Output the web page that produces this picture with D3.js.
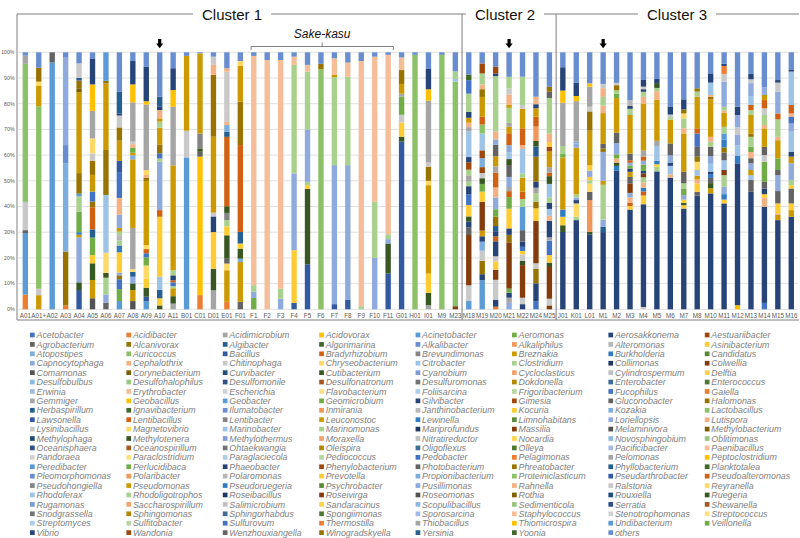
<!DOCTYPE html>
<html>
<head>
<meta charset="utf-8">
<script src="https://cdn.jsdelivr.net/npm/d3@7"></script>
<style>
  body { margin: 0; background: #fff; }
  svg { font-family: "Liberation Sans", Arial, sans-serif; }
</style>
</head>
<body>
<svg id="chart" width="800" height="538"></svg>
<script>
'use strict';

/* Data */

var genera = ["Acetobacter","Acidibacter","Acidimicrobium","Acidovorax","Acinetobacter","Aeromonas","Aerosakkonema","Aestuariibacter",
  "Agrobacterium","Alcanivorax","Algibacter","Algorimarina","Alkalibacter","Alkaliphilus","Alteromonas","Asinibacterium",
  "Atopostipes","Auricoccus","Bacillus","Bradyrhizobium","Brevundimonas","Breznakia","Burkholderia","Candidatus",
  "Capnocytophaga","Cephalothrix","Chitinophaga","Chryseobacterium","Citrobacter","Clostridium","Collimonas","Colwellia",
  "Comamonas","Corynebacterium","Curvibacter","Cutibacterium","Cyanobium","Cycloclasticus","Cylindrospermum","Delftia",
  "Desulfobulbus","Desulfohalophilus","Desulfomonile","Desulfonatronum","Desulfuromonas","Dokdonella","Enterobacter","Enterococcus",
  "Erwinia","Erythrobacter","Escherichia","Flavobacterium","Foliisarcina","Frigoribacterium","Fucophilus","Gaiella",
  "Gemmiger","Geobacillus","Geobacter","Geomicrobium","Gilvibacter","Gimesia","Gluconobacter","Halomonas",
  "Herbaspirillum","Ignavibacterium","Ilumatobacter","Inmirania","Janthinobacterium","Kocuria","Kozakia","Lactobacillus",
  "Lawsonella","Lentibacillus","Lentibacter","Leuconostoc","Lewinella","Limnohabitans","Loriellopsis","Lutispora",
  "Lysinibacillus","Magnetovibrio","Marinobacter","Marinomonas","Mariprofundus","Massilia","Melaminivora","Methylobacterium",
  "Methylophaga","Methylotenera","Methylothermus","Moraxella","Nitratireductor","Nocardia","Novosphingobium","Oblitimonas",
  "Oceanisphaera","Oceanospirillum","Ohtaekwangia","Oleispira","Oligoflexus","Olleya","Pacificibacter","Paenibacillus",
  "Pandoraea","Paraclostridium","Paraglaciecola","Pediococcus","Pedobacter","Pelagimonas","Pelomonas","Peptoclostridium",
  "Peredibacter","Perlucidibaca","Phaeobacter","Phenylobacterium","Photobacterium","Phreatobacter","Phyllobacterium","Planktotalea",
  "Pleomorphomonas","Polaribacter","Polaromonas","Prevotella","Propionibacterium","Proteiniclasticum","Pseudarthrobacter","Pseudoalteromonas",
  "Pseudohongiella","Pseudomonas","Pseudoruegeria","Psychrobacter","Pusillimonas","Rahnella","Ralstonia","Reyranella",
  "Rhodoferax","Rhodoligotrophos","Roseibacillus","Roseivirga","Roseomonas","Rothia","Rouxiella","Ruegeria",
  "Rugamonas","Saccharospirillum","Salimicrobium","Sandaracinus","Scopulibacillus","Sedimenticola","Serratia","Shewanella",
  "Snodgrassella","Sphingomonas","Sphingorhabdus","Spongiimonas","Sporosarcina","Staphylococcus","Stenotrophomonas","Streptococcus",
  "Streptomyces","Sulfitobacter","Sulfurovum","Thermostilla","Thiobacillus","Thiomicrospira","Undibacterium","Veillonella",
  "Vibrio","Wandonia","Wenzhouxiangella","Winogradskyella","Yersinia","Yoonia","others"];

var cluster1 = ["A01","A01+","A02","A03","A04","A05","A06","A07","A08","A09","A10","A11","B01","C01","D01","E01","F01",
  "F1","F2","F3","F4","F5","F6","F7","F8","F9","F10","F11","G01","H01","I01","M9","M23"];
var cluster2 = ["M18","M19","M20","M21","M22","M24","M25"];
var cluster3 = ["J01","K01","L01","M1","M2","M3","M4","M5","M6","M7","M8","M10","M11","M12","M13","M14","M15","M16"];

var yTicks = [0,10,20,30,40,50,60,70,80,90,100];
var arrowSamples = ["A10","M21","M1"];
var sakeKasu = ["F1","F11"];

// per sample: [genus, % of reads], bottom to top
var cluster1Abund = [
  [["Acidibacter",5.7],["Acinetobacter",24],["Agrobacterium",1.1],["Chitinophaga",11],["Lactobacillus",53.7],["Acidimicrobium",3.2],["others",1.3]],
  [["Leuconostoc",5.5],["Chitinophaga",2.5],["Lactobacillus",71],["Leuconostoc",7.9],["Chryseobacterium",1.7],["Halomonas",5.4],["others",6]],
  [["Acinetobacter",96],["Agrobacterium",4]],
  [["Acidibacter",1.5],["Alcanivorax",21],["Atopostipes",34.3],["Alkalibacter",7.1],["Capnocytophaga",34],["others",2.1]],
  [["Bacillus",7.5],["Cutibacterium",3],["Capnocytophaga",17.5],["Leuconostoc",1],["Burkholderia",1],["Aeromonas",8],["Clostridium",6],["Acinetobacter",1],["Alcanivorax",8],["Leuconostoc",31.5],["Corynebacterium",1.5],["Alcanivorax",3],["Algibacter",1],["Chitinophaga",5.7],["others",4.3]],
  [["Comamonas",4.3],["Leuconostoc",7.1],["Cutibacterium",6.5],["Kocuria",3.2],["Aeromonas",6.8],["Algibacter",3.2],["Lentibacillus",8.6],["Alcanivorax",2.2],["Acetobacter",3.9],["Leuconostoc",6.5],["Alcanivorax",5.4],["Chitinophaga",3],["Chryseobacterium",5.8],["Acidimicrobium",10.7],["Acidovorax",10.3],["Aerosakkonema",9.9],["others",2.6]],
  [["Agrobacterium",2.6],["Capnocytophaga",3.2],["Clostridium",6.5],["Cutibacterium",1.9],["Chryseobacterium",7.8],["Citrobacter",22.5],["Alcanivorax",17.5],["Leuconostoc",25.9],["Alcanivorax",1],["Acinetobacter",11.1]],
  [["Acinetobacter",3.2],["Aeromonas",4.6],["Acetobacter",3.8],["Alcanivorax",1.5],["Capnocytophaga",1.1],["Kocuria",7.8],["Burkholderia",2.6],["Clostridium",2],["Alteromonas",2],["Clostridium",1.4],["Leuconostoc",1.4],["Capnocytophaga",5.1],["Rahnella",6.5],["Acetobacter",9.7],["Bacillus",4.6],["Leuconostoc",7.8],["Alcanivorax",5.1],["Chitinophaga",4.6],["Aerosakkonema",0.7],["Algibacter",8.6],["others",15.1]],
  [["Comamonas",3.2],["Leuconostoc",4.3],["Cutibacterium",2.6],["Capnocytophaga",2.6],["Algibacter",1.9],["Chryseobacterium",1],["Acidimicrobium",16.1],["Leuconostoc",26.7],["Atopostipes",1.6],["Leuconostoc",1],["Aeromonas",2],["Rahnella",1.3],["Chitinophaga",1],["Acidimicrobium",15.3],["Acidovorax",7],["Aerosakkonema",9.1],["others",3.4]],
  [["Acinetobacter",3.2],["Bacillus",1.7],["Cutibacterium",3.5],["Kocuria",3.6],["Chryseobacterium",5],["Aeromonas",3.2],["Acetobacter",1.6],["Lentibacillus",1.6],["Chryseobacterium",1.6],["Leuconostoc",24.9],["Alcanivorax",1.3],["Rahnella",1],["Chryseobacterium",1.9],["Acidimicrobium",25.5],["Acidovorax",1.3],["Aerosakkonema",13.4],["others",5.6]],
  [["Cutibacterium",1.5],["Kocuria",2.8],["Algibacter",3.2],["Citrobacter",5.2],["Kocuria",23.3],["Lentibacillus",2.6],["Capnocytophaga",18.8],["Clostridium",1.3],["Acetobacter",2],["Alcanivorax",3.3],["Leuconostoc",6.7],["Clostridium",2.3],["Leuconostoc",1.3],["Rahnella",3.2],["Aerosakkonema",1.3],["Algibacter",3.9],["others",17.3]],
  [["Acidimicrobium",2.2],["Cutibacterium",2.9],["Leuconostoc",3.1],["Clostridium",0.8],["Acetobacter",1.5],["Lentibacillus",0.8],["Aerosakkonema",1.9],["Clostridium",2],["Leuconostoc",40.8],["Acidimicrobium",22.8],["Acidovorax",6.5],["Aerosakkonema",8.5],["others",6.2]],
  [["Acinetobacter",59.1],["Chitinophaga",10.4],["Leuconostoc",29.1],["others",1.4]],
  [["Acidibacter",5.5],["Acidovorax",53.9],["Agrobacterium",1.9],["Cutibacterium",1.3],["Brevundimonas",5.8],["Leuconostoc",31.2],["others",0.4]],
  [["Acidimicrobium",7.4],["Cutibacterium",8.4],["Kocuria",14.3],["Aerosakkonema",6.1],["Chitinophaga",1.5],["Leuconostoc",29.6],["Alcanivorax",24.1],["Rahnella",3.9],["Chitinophaga",3.2],["others",1.7]],
  [["Acidibacter",2.9],["Leuconostoc",12.3],["Chryseobacterium",2.6],["Agrobacterium",1.9],["Cutibacterium",9.1],["Kocuria",3.5],["Clostridium",2.4],["Brevundimonas",2.8],["Cutibacterium",2.6],["Lentibacillus",27],["Algibacter",2],["Atopostipes",2.6],["Rahnella",1.3],["Chitinophaga",19.5],["Rahnella",1.3],["others",6.2]],
  [["Agrobacterium",2.9],["Leuconostoc",15.5],["Atopostipes",1.3],["Cutibacterium",3.9],["Kocuria",2],["Algibacter",4.5],["Lentibacillus",33.8],["Alcanivorax",16.9],["Leuconostoc",14],["Chryseobacterium",1.8],["others",3.4]],
  [["Aeromonas",4.4],["Capnocytophaga",2.4],["Clostridium",2.6],["Staphylococcus",89.2],["others",1.4]],
  [["Staphylococcus",97],["others",3]],
  [["Capnocytophaga",4.1],["Clostridium",3.9],["Staphylococcus",89],["others",3]],
  [["Bacillus",2.5],["Kocuria",20.5],["Capnocytophaga",29.9],["Clostridium",42.2],["Staphylococcus",3.2],["others",1.7]],
  [["Bacillus",17.5],["Cutibacterium",29.3],["Kocuria",1.5],["Clostridium",1.3],["Capnocytophaga",20.4],["Clostridium",22.5],["Staphylococcus",2.6],["others",4.9]],
  [["Lactobacillus",93.4],["Alcanivorax",2.1],["others",4.5]],
  [["Bacillus",2],["Capnocytophaga",54.1],["Clostridium",34.2],["Leuconostoc",0.9],["Staphylococcus",6.5],["others",2.3]],
  [["Bacillus",3.8],["Capnocytophaga",52.3],["Clostridium",34.4],["Staphylococcus",5.5],["others",4]],
  [["Clostridium",1.2],["Staphylococcus",95.4],["others",3.4]],
  [["Capnocytophaga",20],["Clostridium",21.8],["Staphylococcus",56.5],["others",1.7]],
  [["Bacillus",13.9],["Cutibacterium",11.7],["Capnocytophaga",1.7],["Clostridium",1.9],["Staphylococcus",69.8],["others",1]],
  [["Bacillus",65.2],["Cutibacterium",1.9],["Kocuria",5.5],["Chitinophaga",3],["Aeromonas",7.1],["Acidimicrobium",1.1],["Leuconostoc",3.8],["Alcanivorax",5.4],["Staphylococcus",4.9],["others",2]],
  [["Lactobacillus",99],["others",1]],
  [["Acidimicrobium",1.6],["Cutibacterium",4.8],["Kocuria",7.5],["Leuconostoc",34.4],["Chryseobacterium",1.7],["Alcanivorax",5.5],["Chitinophaga",1.6],["Acidimicrobium",24.1],["Acidovorax",4.4],["Aerosakkonema",7.9],["others",6.5]],
  [["Lactobacillus",99],["others",1]],
  [["Colwellia",1.2],["Lactobacillus",87.4],["Citrobacter",1],["Clostridium",3],["others",7.4]]
];

var cluster2Abund = [
  [["Acinetobacter",3.2],["Chitinophaga",6.1],["Colwellia",19.5],["Agrobacterium",3],["Aerosakkonema",2.2],["Cutibacterium",2],["Kocuria",4.4],["Acetobacter",4.1],["Aerosakkonema",3.2],["Clostridium",1.8],["Acidimicrobium",2.4],["Clostridium",2.2],["Aestuariibacter",2.9],["Aerosakkonema",2],["Citrobacter",10],["Acidimicrobium",1.6],["Rahnella",1.7],["Leuconostoc",1.9],["Aerosakkonema",2.3],["Clostridium",7.1],["Acetobacter",5.2],["Algorimarina",2.2],["others",8.6]],
  [["Acinetobacter",11.3],["Aerosakkonema",2.3],["Alcanivorax",5.2],["Chitinophaga",3.9],["Atopostipes",3.5],["Aerosakkonema",2.1],["Leuconostoc",2.2],["Colwellia",11.2],["Kocuria",3.9],["Aeromonas",3],["Cutibacterium",2.2],["Chitinophaga",2],["Aestuariibacter",2.3],["Atopostipes",3.5],["Aestuariibacter",3],["Citrobacter",6.5],["Lactobacillus",3.5],["Lentibacillus",3],["Leuconostoc",7.7],["Alcanivorax",3],["Rahnella",1.8],["Clostridium",4.3],["Aestuariibacter",3.9],["others",4.3]],
  [["Acidibacter",1],["Aerosakkonema",2.6],["Chitinophaga",7.8],["Colwellia",3.9],["Kocuria",3.2],["Chitinophaga",2],["Aerosakkonema",5.8],["Lentibacillus",1.9],["Aerosakkonema",2],["Algibacter",2],["Alcanivorax",3.6],["Aeromonas",2.9],["Capnocytophaga",4.5],["Rahnella",3.9],["Lentibacillus",5.8],["Acidimicrobium",2.4],["Leuconostoc",3.9],["Agrobacterium",4.4],["Capnocytophaga",2.1],["Rahnella",3.1],["Clostridium",21.4],["Aerosakkonema",1],["Aestuariibacter",2.6],["others",5.6]],
  [["Capnocytophaga",2.5],["Acidimicrobium",2],["Aerosakkonema",1.9],["Aeromonas",1.6],["Colwellia",17.9],["Alcanivorax",2.9],["Aerosakkonema",2.5],["Kocuria",7.6],["Aeromonas",4.5],["Lentibacillus",2.3],["Acidimicrobium",1.6],["Capnocytophaga",3.9],["Agrobacterium",4.6],["Cutibacterium",2.3],["Citrobacter",2.6],["Capnocytophaga",2.8],["Lentibacillus",4.6],["Leuconostoc",2.5],["Acidimicrobium",1.5],["Clostridium",5.8],["Leuconostoc",1.3],["Rahnella",3.8],["Chitinophaga",2.4],["Clostridium",4.5],["others",9.5]],
  [["Aerosakkonema",2],["Chitinophaga",2.5],["Colwellia",12.7],["Cutibacterium",1.6],["Chitinophaga",2.6],["Kocuria",1.3],["Acetobacter",1.6],["Aerosakkonema",2],["Agrobacterium",4.5],["Acinetobacter",9.1],["Clostridium",3],["Lentibacillus",2.9],["Leuconostoc",5.4],["Clostridium",1.7],["Citrobacter",9.5],["Rahnella",1.5],["Lentibacillus",6.5],["Leuconostoc",7.6],["Chitinophaga",1.5],["Clostridium",11],["others",9.5]],
  [["Acetobacter",3.2],["Aerosakkonema",6.9],["Alcanivorax",5.6],["Chitinophaga",2.2],["Colwellia",16.5],["Kocuria",4.9],["Alcanivorax",2.6],["Clostridium",3.2],["Acidimicrobium",2.2],["Aerosakkonema",2.4],["Alcanivorax",9.7],["Algibacter",3.9],["Cutibacterium",2.2],["Alkaliphilus",5.6],["Lentibacillus",3.8],["Leuconostoc",3.3],["Aerosakkonema",1.6],["Rahnella",2.9],["others",17.3]],
  [["Colwellia",1.5],["Chitinophaga",2.6],["Colwellia",12.3],["Cutibacterium",1.7],["Kocuria",2.9],["Acetobacter",5.6],["Acidimicrobium",1.3],["Aerosakkonema",6.4],["Rahnella",2],["Citrobacter",2.6],["Aerosakkonema",2.3],["Clostridium",2.2],["Citrobacter",5.2],["Cutibacterium",3],["Lentibacillus",1.3],["Acidimicrobium",2.2],["Leuconostoc",6.1],["Aestuariibacter",1.7],["Kocuria",1.9],["Rahnella",3.3],["Clostridium",13.8],["Agrobacterium",2.4],["Alcanivorax",1.9],["others",13.4]]
];

var cluster3Abund = [
  [["Vibrio",30.1],["Cutibacterium",2.6],["Kocuria",3.3],["Burkholderia",2.8],["Leuconostoc",20.3],["Aeromonas",1.3],["Clostridium",3.1],["Acidimicrobium",16.9],["Acidovorax",4.7],["Aerosakkonema",9.1],["others",5.8]],
  [["Vibrio",34.7],["Clostridium",1.3],["Chryseobacterium",5.2],["Aerosakkonema",1.3],["Capnocytophaga",1],["Clostridium",1.3],["Leuconostoc",18.1],["Capnocytophaga",1.6],["Atopostipes",0.7],["Acidimicrobium",15.8],["Acidovorax",2],["Aerosakkonema",5.2],["others",11.8]],
  [["Vibrio",29.2],["Cutibacterium",0.9],["Alkaliphilus",12.4],["Agrobacterium",3.2],["Chryseobacterium",3.2],["Clostridium",1.3],["Kocuria",1.3],["Capnocytophaga",2.5],["Kocuria",2],["Leuconostoc",13.5],["Alcanivorax",7.5],["Chitinophaga",1.8],["Acidimicrobium",7.8],["Acidovorax",1.3],["others",12.1]],
  [["Vibrio",31],["Algibacter",2.1],["Capnocytophaga",2.9],["Clostridium",14],["Leuconostoc",1.6],["Capnocytophaga",11.6],["Alcanivorax",1.3],["Agrobacterium",1.9],["Leuconostoc",12.4],["Rahnella",3],["Clostridium",3.5],["Rahnella",3.5],["Chitinophaga",1.7],["others",12.7]],
  [["Vibrio",53.5],["Burkholderia",1.9],["Cutibacterium",1.3],["Rahnella",1.6],["Aeromonas",1.6],["Capnocytophaga",4.3],["Agrobacterium",4.1],["Leuconostoc",13.3],["Aeromonas",1.7],["Clostridium",1.3],["Alcanivorax",2],["Chitinophaga",0.9],["others",11.8]],
  [["Vibrio",38.8],["Kocuria",1.4],["Lentibacillus",1.3],["Rahnella",2],["Capnocytophaga",1.8],["Colwellia",3.7],["Agrobacterium",2.5],["Leuconostoc",2],["Aerosakkonema",1.3],["Aeromonas",1.2],["Capnocytophaga",1],["Lentibacillus",1],["Agrobacterium",2.6],["Leuconostoc",15],["Clostridium",2.4],["Aerosakkonema",1.1],["Alteromonas",2.3],["others",18.6]],
  [["Chitinophaga",0.9],["Vibrio",40.1],["Kocuria",3.4],["Lentibacillus",1.6],["Burkholderia",1.5],["Rahnella",2],["Clostridium",2],["Colwellia",1.5],["Aerosakkonema",1],["Aeromonas",2.5],["Capnocytophaga",1.5],["Lentibacillus",1.5],["Acidimicrobium",2.4],["Leuconostoc",18.4],["Rahnella",2.6],["Clostridium",2],["Aerosakkonema",1],["Chitinophaga",1],["Aerosakkonema",2.6],["others",10.8]],
  [["Vibrio",54.2],["Clostridium",1.8],["Kocuria",1],["Burkholderia",1.4],["Citrobacter",5.8],["Acidimicrobium",2],["Leuconostoc",16.2],["Rahnella",3.3],["Clostridium",1.3],["Cutibacterium",1.9],["Aerosakkonema",1.6],["others",10.5]],
  [["Vibrio",51.6],["Rahnella",1.3],["Citrobacter",3.3],["Aerosakkonema",1.3],["Capnocytophaga",2.8],["Agrobacterium",4.7],["Leuconostoc",9.3],["Clostridium",1],["Chitinophaga",1],["Aerosakkonema",3.2],["others",21.2]],
  [["Vibrio",39.2],["Kocuria",1.3],["Cutibacterium",0.9],["Kocuria",1.3],["Capnocytophaga",1.7],["Aeromonas",2.6],["Clostridium",2],["Agrobacterium",4.5],["Leuconostoc",14.9],["Rahnella",2],["Clostridium",3.9],["Chryseobacterium",1.9],["Alcanivorax",1.6],["Aerosakkonema",3.9],["others",18.3]],
  [["Vibrio",44.2],["Agrobacterium",1.5],["Kocuria",3.3],["Rahnella",1.5],["Leuconostoc",1.5],["Citrobacter",2.2],["Chryseobacterium",3.2],["Alcanivorax",2],["Agrobacterium",3.8],["Acetobacter",5.2],["Lentibacillus",2],["Leuconostoc",12.3],["Clostridium",2],["Alcanivorax",1.3],["others",14]],
  [["Vibrio",45.1],["Leuconostoc",2],["Cutibacterium",2],["Agrobacterium",2],["Burkholderia",1.5],["Aerosakkonema",1],["Citrobacter",3],["Capnocytophaga",3],["Agrobacterium",3.6],["Clostridium",2],["Rahnella",1.9],["Leuconostoc",14.6],["Alcanivorax",1],["Rahnella",0.7],["Citrobacter",4.8],["Aerosakkonema",3.6],["others",8.2]],
  [["Vibrio",41.2],["Kocuria",1.5],["Burkholderia",2.1],["Capnocytophaga",2.9],["Clostridium",4.5],["Colwellia",2],["Citrobacter",3.8],["Agrobacterium",3],["Alcanivorax",2],["Burkholderia",3],["Acinetobacter",2.4],["Clostridium",2.6],["Leuconostoc",5.5],["Rahnella",0.8],["Clostridium",1.5],["Capnocytophaga",9.8],["Chitinophaga",3],["Acidibacter",3.1],["Aerosakkonema",0.8],["others",4.5]],
  [["Acidovorax",1.6],["Vibrio",55.2],["Burkholderia",3],["Citrobacter",4],["Capnocytophaga",4],["Chitinophaga",3],["Capnocytophaga",4.8],["Aerosakkonema",3.2],["others",21.2]],
  [["Vibrio",45.7],["Agrobacterium",4.6],["Citrobacter",1.9],["Leuconostoc",2],["Capnocytophaga",2.6],["Agrobacterium",2],["Rahnella",2.4],["Aeromonas",2],["Clostridium",3.9],["Alcanivorax",1.3],["Leuconostoc",7.2],["Clostridium",1.9],["Lentibacillus",2],["Citrobacter",3.5],["Capnocytophaga",5],["Chitinophaga",1.5],["Aerosakkonema",2.1],["others",8.4]],
  [["Acetobacter",2.5],["Vibrio",37.4],["Rahnella",3.6],["Kocuria",1.3],["Aerosakkonema",2.2],["Agrobacterium",2.6],["Aeromonas",7.8],["Chitinophaga",2.6],["Agrobacterium",3.2],["Leuconostoc",7.2],["Rahnella",1.3],["Clostridium",3.9],["Chitinophaga",2.6],["Lentibacillus",3.2],["Leuconostoc",2],["Capnocytophaga",3],["others",13.6]],
  [["Vibrio",34.7],["Leuconostoc",2],["Rahnella",0.6],["Kocuria",3.9],["Agrobacterium",4.8],["Capnocytophaga",6.2],["Agrobacterium",2],["Aeromonas",4.5],["Leuconostoc",7.1],["Rahnella",1.3],["Clostridium",6.8],["Lentibacillus",2.3],["Capnocytophaga",8.5],["Chitinophaga",3.5],["Aerosakkonema",1],["others",10.8]],
  [["Vibrio",36],["Leuconostoc",2.6],["Kocuria",2.6],["Agrobacterium",5.8],["Kocuria",1.3],["Clostridium",2],["Capnocytophaga",6.5],["Leuconostoc",2.6],["Aerosakkonema",1.9],["Citrobacter",7.8],["Capnocytophaga",3.2],["Acetobacter",2.7],["Rahnella",1.2],["Lentibacillus",3.3],["Citrobacter",13],["Aerosakkonema",0.6],["others",6.9]]
];

(function() {
  /* Excel-style series colours: six accents in nine shades */
  var accents = ["#4472C4","#ED7D31","#A5A5A5","#FFC000","#5B9BD5","#70AD47"];
  var shades = [
    accents,
    ["#264478","#9E480E","#636363","#997300","#255E91","#43682B"],
    ["#698ED0","#F1975A","#B7B7B7","#FFCD33","#7CAFDD","#8CC168"],
    ["#335AA1","#D26012","#848484","#CC9A00","#327DC2","#5A8A39"],
    ["#8FAADC","#F4B183","#C9C9C9","#FFD966","#9DC3E6","#A9D18E"],
    ["#203864","#843C0C","#525252","#7F6000","#1F4E79","#385723"],
    accents.map(function(c) { return d3.interpolateRgb(c, "#fff")(0.3); }),
    accents.map(function(c) { return d3.interpolateRgb(c, "#000")(0.3); }),
    accents.map(function(c) { return d3.interpolateRgb(c, "#fff")(0.5); })
  ];
  var color = d3.scaleOrdinal()
    .domain(genera)
    .range(genera.map(function(g, i) { return shades[Math.floor(i / 6) % 9][i % 6]; }));

  var samples = cluster1.concat(cluster2, cluster3);
  var abund = cluster1Abund.concat(cluster2Abund, cluster3Abund);

  var svg = d3.select("#chart");
  var x = d3.scaleBand().domain(samples).range([18.6, 798]).paddingInner(0.6).paddingOuter(0.3);
  var y = d3.scaleLinear().domain([0, 100]).range([309.3, 52.3]);
  var bw = x.bandwidth();
  var cx = function(s) { return x(s) + bw / 2; };

  // gridlines + y labels
  var grid = svg.append("g");
  grid.selectAll("line").data(yTicks).enter().append("line")
    .attr("x1", 18).attr("x2", 798)
    .attr("y1", function(d) { return y(d); }).attr("y2", function(d) { return y(d); })
    .attr("stroke", "#d9d9d9").attr("stroke-width", 0.8);
  grid.selectAll("text").data(yTicks).enter().append("text")
    .attr("x", 14.5).attr("y", function(d) { return y(d); }).attr("dy", "0.35em")
    .attr("text-anchor", "end").attr("font-size", 5.2).attr("fill", "#595959")
    .text(function(d) { return d + "%"; });

  // stacked bars
  samples.forEach(function(s, i) {
    var segs = abund[i];
    var total = d3.sum(segs, function(d) { return d[1]; });
    var acc = 0;
    var rows = segs.map(function(d) {
      var r = { g: d[0], y0: acc / total * 100, y1: (acc + d[1]) / total * 100 };
      acc += d[1];
      return r;
    });
    svg.append("g").selectAll("rect").data(rows).enter().append("rect")
      .attr("x", x(s)).attr("width", bw)
      .attr("y", function(d) { return y(d.y1); })
      .attr("height", function(d) { return y(d.y0) - y(d.y1); })
      .attr("fill", function(d) { return color(d.g); });
  });

  // x labels
  svg.append("g").selectAll("text").data(samples).enter().append("text")
    .attr("x", cx).attr("y", 318)
    .attr("text-anchor", "middle").attr("font-size", 6.3).attr("fill", "#595959")
    .text(function(d) { return d; });

  // cluster boxes
  var boxTop = 14, boxBottom = 320;
  var step = x.step();
  var edges = [17, cx("M23") + step / 2, cx("M25") + step / 2, 799];
  var labels = [{ t: "Cluster 1", c: 232 }, { t: "Cluster 2", c: 505 }, { t: "Cluster 3", c: 677 }];
  var frame = svg.append("g").attr("stroke", "#7f7f7f").attr("stroke-width", 1).attr("fill", "none");
  edges.slice(0, 3).forEach(function(e) {
    frame.append("line").attr("x1", e).attr("x2", e).attr("y1", boxTop).attr("y2", boxBottom);
  });
  frame.append("line").attr("x1", edges[0]).attr("x2", edges[3]).attr("y1", boxBottom).attr("y2", boxBottom);
  labels.forEach(function(l, i) {
    var t = svg.append("text").attr("x", l.c).attr("y", 19.5).attr("text-anchor", "middle")
      .attr("font-size", 15).attr("fill", "#111").text(l.t);
    var w = t.node().getComputedTextLength();
    var a = l.c - w / 2 - 9, b = l.c + w / 2 + 9;
    if (a > edges[i]) frame.append("line").attr("x1", edges[i]).attr("x2", a).attr("y1", boxTop).attr("y2", boxTop);
    if (b < edges[i + 1]) frame.append("line").attr("x1", b).attr("x2", edges[i + 1]).attr("y1", boxTop).attr("y2", boxTop);
  });

  // sake-kasu bracket
  var sx1 = x(sakeKasu[0]), sx2 = x(sakeKasu[1]) + bw + 2.5, sc = (sx1 + sx2) / 2;
  svg.append("path")
    .attr("d", "M" + sx1 + ",50V46.5H" + sx2 + "V50M" + sc + ",46.5V42.5")
    .attr("stroke", "#7f7f7f").attr("fill", "none");
  svg.append("text").attr("x", sc).attr("y", 38.3).attr("text-anchor", "middle")
    .attr("font-size", 12).attr("font-style", "italic").attr("fill", "#111").text("Sake-kasu");

  // arrows
  svg.append("g").selectAll("path").data(arrowSamples).enter().append("path")
    .attr("d", function(s) {
      var c = cx(s);
      return "M" + (c - 1.6) + ",39h3.2v4.6h2l-3.6,4.6l-3.6,-4.6h2z";
    })
    .attr("fill", "#000");

  // legend
  var leg = svg.append("g").selectAll("g").data(genera).enter().append("g")
    .attr("transform", function(d, i) {
      return "translate(" + (30 + 96.4 * (i % 8)) + "," + (335 + 9.41 * Math.floor(i / 8)) + ")";
    });
  leg.append("rect").attr("x", 0).attr("y", -2.35).attr("width", 4.7).attr("height", 4.7)
    .attr("fill", function(d) { return color(d); });
  leg.append("text").attr("x", 6.5).attr("dy", "0.35em")
    .attr("font-size", 8.9).attr("font-style", "italic").attr("fill", "#7f7f7f")
    .text(function(d) { return d; });
})();
</script>
</body>
</html>
